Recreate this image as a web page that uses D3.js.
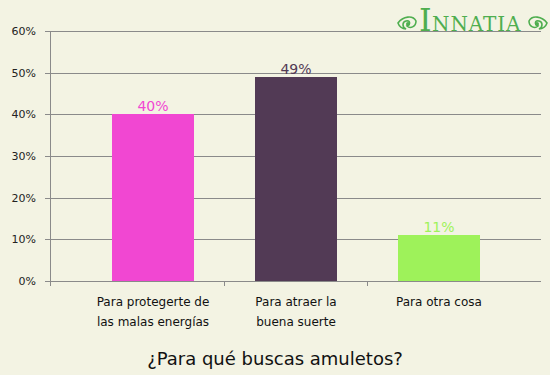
<!DOCTYPE html>
<html>
<head>
<meta charset="utf-8">
<script src="https://cdn.jsdelivr.net/npm/d3@7"></script>
<style>
body { margin: 0; background: #f3f3e3; }
svg { display: block; font-family: "DejaVu Sans", Verdana, sans-serif; }
</style>
</head>
<body>
<script>
var categories = [["Para protegerte de", "las malas energías"], ["Para atraer la", "buena suerte"], ["Para otra cosa"]];
var values = [40, 49, 11];
var colors = ["#f147d2", "#523a55", "#9ef25a"];
var yTicks = [0, 10, 20, 30, 40, 50, 60];
var title = "¿Para qué buscas amuletos?";

var svg = d3.select("body").append("svg").attr("width", 550).attr("height", 375);
svg.append("rect").attr("width", 550).attr("height", 375).attr("fill", "#f3f3e3");

var plotLeft = 50, plotRight = 541, plotTop = 31, plotBottom = 281;
var x = d3.scaleBand().domain(d3.range(values.length)).range([81.5, 510.5]).paddingInner(0.42).paddingOuter(0.21);
var y = d3.scaleLinear().domain([0, 60]).range([plotBottom, plotTop]);

// grid lines + y labels
svg.selectAll("line.grid").data(yTicks).enter().append("line")
  .attr("x1", plotLeft - 5).attr("x2", plotRight)
  .attr("y1", function(d){ return Math.round(y(d)) + 0.5; }).attr("y2", function(d){ return Math.round(y(d)) + 0.5; })
  .attr("stroke", "#8a8a8a").attr("stroke-width", 1);
svg.selectAll("text.ylab").data(yTicks).enter().append("text")
  .attr("x", 36).attr("y", function(d){ return y(d) + 4; })
  .attr("text-anchor", "end").attr("font-size", 11).attr("fill", "#222")
  .text(function(d){ return d + "%"; });

svg.append("line").attr("x1", plotLeft + 0.5).attr("x2", plotLeft + 0.5).attr("y1", plotTop).attr("y2", plotBottom + 5)
  .attr("stroke", "#8a8a8a");

// category boundary ticks
var bounds = [plotLeft, 224, 367];
svg.selectAll("line.xt").data(bounds).enter().append("line")
  .attr("x1", function(d){ return d + 0.5; }).attr("x2", function(d){ return d + 0.5; })
  .attr("y1", plotBottom).attr("y2", plotBottom + 5).attr("stroke", "#8a8a8a");

// bars
svg.selectAll("rect.bar").data(values).enter().append("rect")
  .attr("x", function(d, i){ return Math.round(x(i)); }).attr("width", 82)
  .attr("y", function(d){ return Math.round(y(d)); }).attr("height", function(d){ return plotBottom - Math.round(y(d)); })
  .attr("fill", function(d, i){ return colors[i]; });

svg.selectAll("text.val").data(values).enter().append("text")
  .attr("x", function(d, i){ return x(i) + x.bandwidth() / 2; })
  .attr("y", function(d){ return y(d) - 3; })
  .attr("text-anchor", "middle").attr("font-size", 14)
  .attr("fill", function(d, i){ return colors[i]; })
  .text(function(d){ return d + "%"; });

// category labels
categories.forEach(function(lines, i){
  var t = svg.append("text").attr("text-anchor", "middle").attr("font-size", 12).attr("fill", "#111");
  lines.forEach(function(s, j){
    t.append("tspan").attr("x", x(i) + x.bandwidth() / 2).attr("y", 306 + j * 20).text(s);
  });
});

svg.append("text").attr("x", 275).attr("y", 365).attr("text-anchor", "middle")
  .attr("font-size", 18).attr("fill", "#111").text(title);

// logo
var logo = svg.append("g").attr("fill", "#4fae4f").attr("font-family", "'DejaVu Serif', 'Liberation Serif', serif");
function ornament(cx, dir) {
  var g = logo.append("g").attr("transform", "translate(" + cx + ",23) scale(" + dir + ",1)");
  g.append("path").attr("d", "M-9,0 C-4,-7 6,-8 9,-2 C9,4 3,6 0,3 C4,1 3,-3 -1,-2 C-5,-1 -5,4 -1,6 C-5,6 -8,3 -9,0 Z")
    .attr("fill", "none").attr("stroke", "#4fae4f").attr("stroke-width", 1.6);
  g.append("circle").attr("cx", 1).attr("cy", 1).attr("r", 2).attr("fill", "#4fae4f");
}
ornament(407, 1);
ornament(538, -1);
logo.append("text").attr("x", 419).attr("y", 31).attr("font-size", 32).text("I");
logo.append("text").attr("x", 432).attr("y", 31).attr("font-size", 20).attr("letter-spacing", 0.9).text("NNATIA");
</script>
</body>
</html>
